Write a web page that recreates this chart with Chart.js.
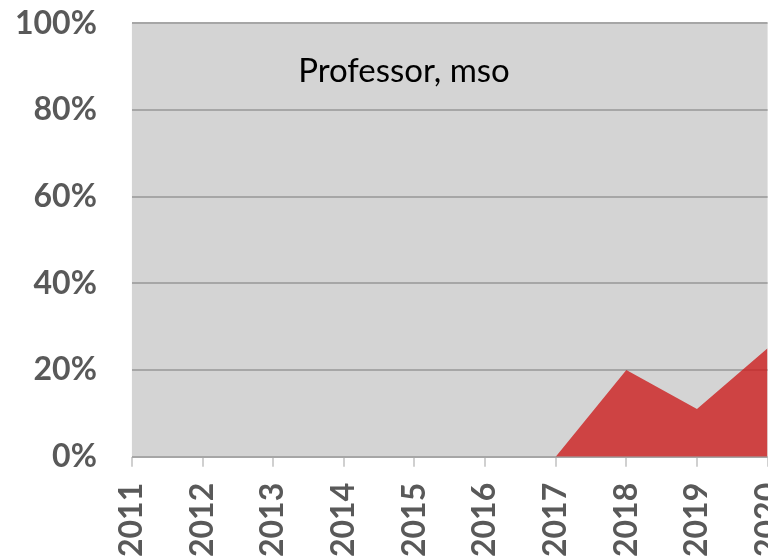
<!DOCTYPE html>
<html lang="en">
<head>
    <meta charset="UTF-8">
    <title>Professor, mso</title>
    <script src="https://cdn.jsdelivr.net/npm/chart.js"></script>
    <style>
        html, body {
            margin: 0;
            padding: 0;
            background: white;
            overflow: hidden;
        }

        /* the reference is a crop of a bigger chart, so the canvas is shifted up/left */
        .chart-box {
            position: absolute;
            left: -34px;
            top: -31px;
            width: 856px;
            height: 604px;
        }
    </style>
</head>
<body>
    <div class="chart-box">
        <canvas id="chart" width="856" height="604"></canvas>
    </div>

    <script>
        // Data
        const years = ['2011', '2012', '2013', '2014', '2015', '2016', '2017', '2018', '2019', '2020'];
        const shares = [null, null, null, null, null, null, 0, 20, 11, 25];
        const yTicks = [0, 20, 40, 60, 80, 100];
        const chartTitle = 'Professor, mso';

        // grey plot area + title inside it
        const plotBackground = {
            id: 'plotBackground',
            beforeDraw(chart) {
                const { ctx, chartArea } = chart;
                ctx.save();
                ctx.fillStyle = '#d4d4d4';
                ctx.fillRect(chartArea.left, chartArea.top, chartArea.right - chartArea.left, chartArea.bottom - chartArea.top);
                ctx.restore();
            },
            afterDraw(chart) {
                const { ctx, chartArea } = chart;
                ctx.save();
                ctx.font = '33px Lato, "Open Sans", sans-serif';
                ctx.fillStyle = '#000';
                ctx.textAlign = 'center';
                ctx.textBaseline = 'middle';
                ctx.fillText(chartTitle, chartArea.left + (chartArea.right - chartArea.left) * 0.428, chartArea.top + 48);
                ctx.restore();
            }
        };

        new Chart(document.getElementById('chart'), {
            type: 'line',
            data: {
                labels: years,
                datasets: [{
                    data: shares,
                    fill: 'origin',
                    backgroundColor: 'rgba(204, 30, 30, 0.8)',
                    borderWidth: 0,
                    pointRadius: 0,
                    tension: 0,
                    spanGaps: false
                }]
            },
            options: {
                responsive: false,
                animation: false,
                layout: { padding: { left: 14, top: 4, right: 0, bottom: 0 } },
                plugins: {
                    legend: { display: false },
                    tooltip: { enabled: false }
                },
                scales: {
                    x: {
                        offset: false,
                        grid: {
                            display: true,
                            drawOnChartArea: false,
                            drawTicks: true,
                            tickLength: 10,
                            color: '#d0d0d0',
                            lineWidth: 2
                        },
                        border: { display: false },
                        ticks: {
                            minRotation: 90,
                            maxRotation: 90,
                            autoSkip: false,
                            padding: 16,
                            color: '#595959',
                            font: { family: 'Lato, "Open Sans", sans-serif', size: 32, weight: 'bold' }
                        }
                    },
                    y: {
                        min: 0,
                        max: 100,
                        afterBuildTicks(scale) {
                            scale.ticks = yTicks.map(v => ({ value: v }));
                        },
                        grid: {
                            color: '#a6a6a6',
                            lineWidth: 2,
                            drawTicks: false
                        },
                        border: { display: false },
                        ticks: {
                            padding: 35,
                            color: '#595959',
                            font: { family: 'Lato, "Open Sans", sans-serif', size: 32, weight: 'bold' },
                            callback: v => v + '%'
                        }
                    }
                }
            },
            plugins: [plotBackground]
        });
    </script>
</body>
</html>
